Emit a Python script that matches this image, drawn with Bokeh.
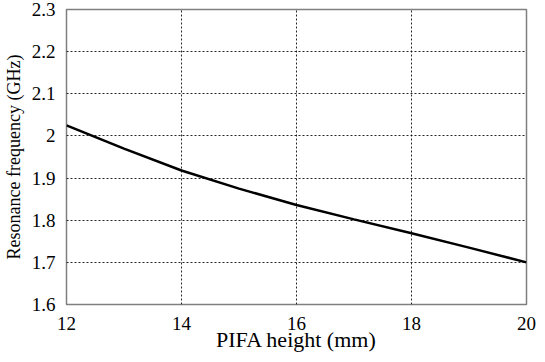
from bokeh.plotting import figure
from bokeh.models import Range1d, FixedTicker
from bokeh.embed import file_html
from bokeh.resources import INLINE

height_mm = [12, 13, 14, 15, 16, 17, 18, 19, 20]
freq_ghz = [2.025, 1.970, 1.918, 1.875, 1.836, 1.802, 1.769, 1.735, 1.700]
x_ticks = [12, 14, 16, 18, 20]
y_ticks = [1.6, 1.7, 1.8, 1.9, 2.0, 2.1, 2.2, 2.3]
x_title = "PIFA height (mm)"
y_title = "Resonance frequency (GHz)"

FONT = "Liberation Serif"

p = figure(width=537, height=354, output_backend="svg", toolbar_location=None,
           x_range=Range1d(12, 20), y_range=Range1d(1.6, 2.3),
           min_border_left=61, min_border_right=11, min_border_top=9, min_border_bottom=47)
p.background_fill_color = "white"
p.border_fill_color = "white"
p.outline_line_color = "#7f7f7f"
p.outline_line_width = 1.5

p.line(height_mm, freq_ghz, line_color="black", line_width=2.5)

p.xaxis.ticker = FixedTicker(ticks=x_ticks)
p.yaxis.ticker = FixedTicker(ticks=y_ticks)
p.yaxis.major_label_overrides = {1.6: "1.6", 1.7: "1.7", 1.8: "1.8", 1.9: "1.9", 2.0: "2", 2.1: "2.1", 2.2: "2.2", 2.3: "2.3"}

for ax in p.axis:
    ax.axis_line_color = None
    ax.major_tick_line_color = None
    ax.minor_tick_line_color = None
    ax.major_label_text_font = FONT
    ax.major_label_text_font_size = "19px"
    ax.major_label_text_color = "black"
    ax.axis_label_text_font = FONT
    ax.axis_label_text_font_style = "normal"
    ax.axis_label_text_color = "black"

p.xaxis.axis_label = x_title
p.yaxis.axis_label = y_title
p.xaxis.axis_label_text_font_size = "22px"
p.yaxis.axis_label_text_font_size = "18px"
p.xaxis.major_label_standoff = 6
p.yaxis.major_label_standoff = 5
p.xaxis.axis_label_standoff = -6
p.yaxis.axis_label_standoff = 5

for g in (p.xgrid, p.ygrid):
    g.grid_line_color = "black"
    g.grid_line_dash = "2 2"
    g.grid_line_width = 1
    g.grid_line_alpha = 0.85

open("out.html", "w").write(file_html(p, INLINE))
